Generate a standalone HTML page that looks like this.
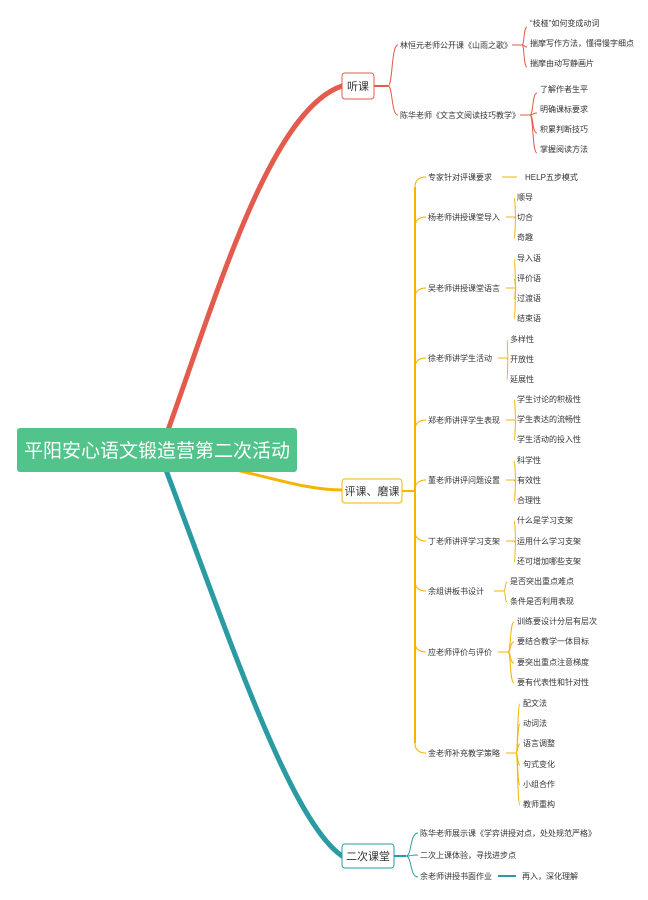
<!DOCTYPE html>
<html><head><meta charset="utf-8"><style>
html,body{margin:0;padding:0;background:#fff;}
svg{display:block;}
text{font-family:"Liberation Sans","Noto Sans CJK SC",sans-serif;fill:#333;}
</style></head><body>
<svg id="s" width="648" height="900" xmlns="http://www.w3.org/2000/svg">
<path d="M168 430 C 215 300, 270 110, 342 86" stroke="#e35b4c" stroke-width="5" fill="none" stroke-linecap="round"/>
<path d="M236 470 C 280 480, 310 490, 342 490" stroke="#f5b400" stroke-width="3" fill="none"/>
<path d="M166 470 C 230 640, 290 820, 342 856" stroke="#2a9ba3" stroke-width="5" fill="none" stroke-linecap="round"/>
<rect x="17" y="428" width="280" height="44" rx="3" fill="#52c38b"/>
<text x="157" y="457" font-size="19" text-anchor="middle" style="fill:#fff">平阳安心语文锻造营第二次活动</text>
<g id="g"></g>
</svg>
<script>
var g=document.getElementById('g'),NS='http://www.w3.org/2000/svg';
function el(t,a,txt){var e=document.createElementNS(NS,t);for(var k in a)e.setAttribute(k,a[k]);if(txt)e.textContent=txt;g.appendChild(e);return e;}
function link(x1,y1,x2,y2,c,w){el('path',{d:'M'+x1+' '+y1+' C '+(x1+(x2-x1)*0.5)+' '+y1+', '+(x1+(x2-x1)*0.3)+' '+y2+', '+x2+' '+y2,stroke:c,'stroke-width':w||1,fill:'none'});}
function box(x,y,w,h,c,t){el('rect',{x:x,y:y,width:w,height:h,rx:3,fill:'#fff',stroke:c,'stroke-width':1});el('text',{x:x+w/2,y:y+h/2+4,'font-size':11,'text-anchor':'middle'},t);}
function tx(x,y,t){el('text',{x:x,y:y+3,'font-size':8},t);}
function grp(px,py,lx,label,lw,cx,kids,c){
  link(px,py,lx-2,label[1],c,1);
  tx(lx,label[1],label[0]);
  var ex=lx+lw;
  el('line',{x1:ex+4,y1:label[1],x2:ex+14,y2:label[1],stroke:c});
  kids.forEach(function(k){link(ex+14,label[1],cx-3,k[1]+4,c,1);tx(cx,k[1],k[0]);});
}
var R='#e35b4c',O='#f5b400',T='#2a9ba3';
box(342,73,32,26,R,'听课');
el('line',{x1:374,y1:86,x2:388,y2:86,stroke:R,'stroke-width':2});
grp(388,86,400,['林恒元老师公开课《山雨之歌》',45],108,530,[['“枝桠”如何变成动词',23],['揣摩写作方法，懂得慢字细点',43],['揣摩由动写静画片',63]],R);
grp(388,86,400,['陈华老师《文言文阅读技巧教学》',115],116,540,[['了解作者生平',89],['明确课标要求',109],['积累判断技巧',129],['掌握阅读方法',149]],R);
box(342,479,60,24,O,'评课、磨课');
el('line',{x1:402,y1:491,x2:415,y2:491,stroke:O,'stroke-width':2});
el('path',{d:'M415 491 L415 187 M415 491 L415 743',stroke:O,'stroke-width':2,fill:'none'});
var P=[[['专家针对评课要求',177],68,525,[['HELP五步模式',177]]],
[['杨老师讲授课堂导入',217],74,517,[['顺导',197],['切合',217],['奇趣',237]]],
[['吴老师讲授课堂语言',288],74,517,[['导入语',258],['评价语',278],['过渡语',298],['结束语',318]]],
[['徐老师讲学生活动',358],66,510,[['多样性',339],['开放性',359],['延展性',379]]],
[['郑老师讲评学生表现',420],74,517,[['学生讨论的积极性',399],['学生表达的流畅性',419],['学生活动的投入性',439]]],
[['董老师讲评问题设置',480],74,517,[['科学性',460],['有效性',480],['合理性',500]]],
[['丁老师讲评学习支架',541],74,517,[['什么是学习支架',520],['运用什么学习支架',541],['还可增加哪些支架',561]]],
[['余组讲板书设计',591],62,510,[['是否突出重点难点',581],['条件是否利用表现',601]]],
[['应老师评价与评价',652],66,517,[['训练要设计分层有层次',621],['要结合教学一体目标',641],['要突出重点注意梯度',662],['要有代表性和针对性',682]]],
[['金老师补充教学策略',753],74,523,[['配文法',703],['动词法',723],['语言调整',743],['句式变化',764],['小组合作',784],['教师重构',804]]]];
P.forEach(function(p){var y=p[0][1];var sy=y<491?y+10:y-10;el('path',{d:'M415 '+sy+' Q415 '+y+' 426 '+y,stroke:O,fill:'none'});tx(428,y,p[0][0]);var ex=428+p[1];
 if(p[3].length==1){el('line',{x1:ex+6,y1:y,x2:p[2]-8,y2:y,stroke:O});tx(p[2],y,p[3][0][0]);return;}
 el('line',{x1:ex+4,y1:y,x2:ex+14,y2:y,stroke:O});p[3].forEach(function(k){link(ex+14,y,p[2]-3,k[1]+1,O,1);tx(p[2],k[1],k[0]);});});
box(342,844,52,24,T,'二次课堂');
el('line',{x1:394,y1:856,x2:406,y2:856,stroke:T,'stroke-width':2});
link(406,856,418,833,T,1);tx(420,833,'陈华老师展示课《学弈讲授对点，处处规范严格》');
link(406,856,418,855,T,1);tx(420,855,'二次上课体验，寻找进步点');
link(406,856,418,877,T,1);tx(420,876,'余老师讲授书面作业');
el('line',{x1:498,y1:876,x2:516,y2:876,stroke:T,'stroke-width':2});
tx(522,876,'再入，深化理解');
</script>
</body></html>
